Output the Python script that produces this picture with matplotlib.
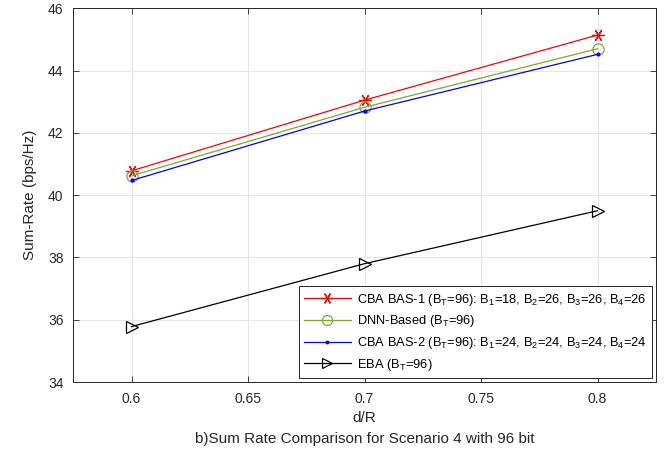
import matplotlib
matplotlib.use('Agg')
import matplotlib.pyplot as plt

plt.rcParams['font.family'] = ['Liberation Sans', 'DejaVu Sans']
plt.rcParams['mathtext.default'] = 'regular'
plt.rcParams['font.size'] = 10

# data
d_over_r = [0.6, 0.7, 0.8]
cba_bas1 = [40.78, 43.05, 45.14]
dnn_based = [40.62, 42.82, 44.70]
cba_bas2 = [40.47, 42.70, 44.52]
eba = [35.78, 37.80, 39.50]

labels = [
    'CBA BAS-1 (B$_T$=96): B$_1$=18, B$_2$=26, B$_3$=26, B$_4$=26',
    'DNN-Based (B$_T$=96)',
    'CBA BAS-2 (B$_T$=96): B$_1$=24, B$_2$=24, B$_3$=24, B$_4$=24',
    'EBA (B$_T$=96)',
]

fig = plt.figure(figsize=(6.72, 4.57), dpi=100)
ax = fig.add_axes([0.109, 0.164, 0.867, 0.818])

ax.plot(d_over_r, cba_bas1, color='#ff0000', lw=0.9, marker=(6, 2, 30), ms=9,
        mew=0.9, label=labels[0])
ax.plot(d_over_r, dnn_based, color='#77ac30', lw=0.9, marker='o', ms=8,
        mfc='none', mew=0.9, label=labels[1])
ax.plot(d_over_r, cba_bas2, color='#0000ff', lw=0.9, marker='.', ms=4,
        label=labels[2])
ax.plot(d_over_r, eba, color='black', lw=0.9, marker='>', ms=8,
        mfc='none', mew=0.9, label=labels[3])

ax.set_xlim(0.575, 0.825)
ax.set_ylim(34, 46)
ax.set_xticks([0.6, 0.65, 0.7, 0.75, 0.8])
ax.set_xticklabels(['0.6', '0.65', '0.7', '0.75', '0.8'])
ax.set_yticks(range(34, 47, 2))

ax.grid(True, color='#e6e6e6', lw=0.8)
ax.set_axisbelow(True)
ax.tick_params(direction='in', length=4, width=0.6, colors='#262626',
               top=True, right=True, labelsize=10, pad=7)
for s in ax.spines.values():
    s.set_color('#262626')
    s.set_linewidth(0.7)

ax.set_ylabel('Sum-Rate (bps/Hz)', fontsize=11, color='#262626', labelpad=8)
ax.set_xlabel('d/R\nb)Sum Rate Comparison for Scenario 4 with 96 bit',
              fontsize=11, color='#262626', linespacing=1.6, labelpad=4)

leg = ax.legend(loc='lower right', fontsize=9.3, handlelength=3.6,
                handletextpad=0.5, fancybox=False, framealpha=1,
                edgecolor='#262626', borderaxespad=0.3, labelspacing=0.45,
                markerscale=0.9)
leg.get_frame().set_linewidth(0.7)

fig.savefig('out.png', dpi=100)
